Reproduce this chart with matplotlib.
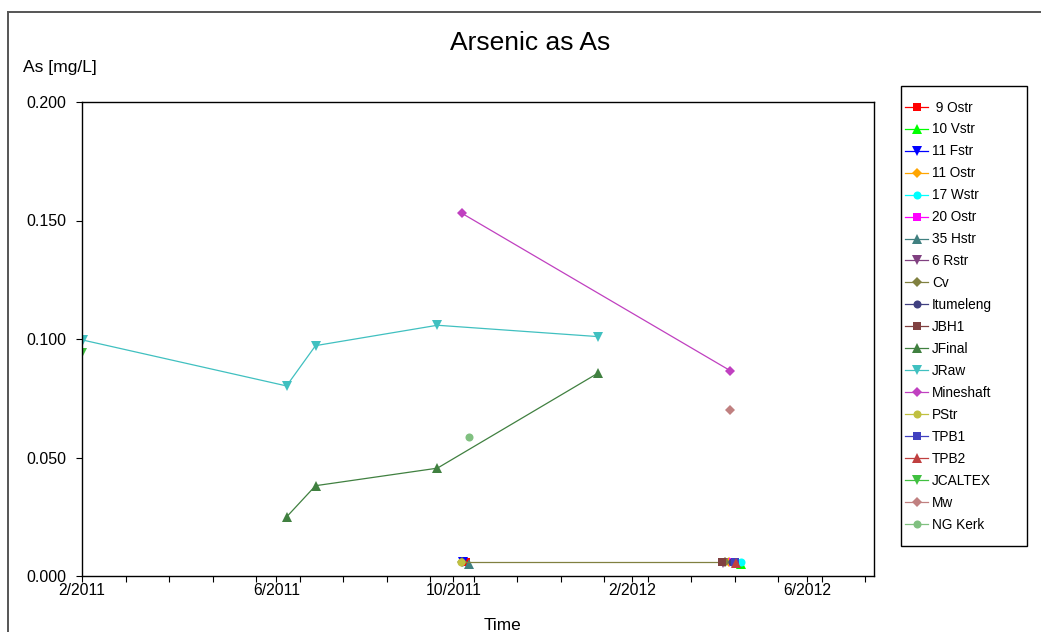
import matplotlib
matplotlib.use("Agg")
import matplotlib.pyplot as plt
import matplotlib.dates as mdates
from matplotlib.lines import Line2D
from matplotlib.patches import Rectangle
from datetime import datetime, timedelta

plt.rcParams['font.family'] = ['Liberation Sans', 'DejaVu Sans']

W, H = 1041, 632

station_names = [" 9 Ostr", "10 Vstr", "11 Fstr", "11 Ostr", "17 Wstr", "20 Ostr", "35 Hstr",
                 "6 Rstr", "Cv", "Itumeleng", "JBH1", "JFinal", "JRaw", "Mineshaft", "PStr",
                 "TPB1", "TPB2", "JCALTEX", "Mw", "NG Kerk"]
station_colors = ["#ff0000", "#00ff00", "#0000ff", "#ffa500", "#00ffff", "#ff00ff", "#408080",
                  "#804080", "#808040", "#404080", "#804040", "#408040", "#40c0c0", "#c040c0",
                  "#c0c040", "#4040c0", "#c04040", "#40c040", "#c08080", "#80c080"]
station_markers = ["s", "^", "v", "D", "o", "s", "^", "v", "D", "o",
                   "s", "^", "v", "D", "o", "s", "^", "v", "D", "o"]

# sample dates and arsenic values (mg/L) per station
ostr9_dates = ["2011-10-10"]
ostr9_as = [0.006]
vstr10_dates = ["2012-04-16"]
vstr10_as = [0.0052]
fstr11_dates = ["2011-10-08"]
fstr11_as = [0.006]
ostr11_dates = ["2012-04-08"]
ostr11_as = [0.006]
wstr17_dates = ["2012-04-16"]
wstr17_as = [0.006]
ostr20_dates = ["2012-04-11"]
ostr20_as = [0.006]
hstr35_dates = ["2011-10-12"]
hstr35_as = [0.0052]
rstr6_dates = ["2012-04-04"]
rstr6_as = [0.0055]
cv_dates = ["2011-10-07", "2012-04-05"]
cv_as = [0.006, 0.006]
itumeleng_dates = ["2012-04-10"]
itumeleng_as = [0.006]
jbh1_dates = ["2012-04-03"]
jbh1_as = [0.006]
jfinal_dates = ["2011-06-08", "2011-06-28", "2011-09-20", "2012-01-09"]
jfinal_as = [0.0249, 0.0381, 0.0455, 0.0857]
jraw_dates = ["2011-01-19", "2011-06-08", "2011-06-28", "2011-09-20", "2012-01-09"]
jraw_as = [0.0995, 0.0802, 0.0972, 0.1058, 0.1010]
mineshaft_dates = ["2011-10-07", "2012-04-09"]
mineshaft_as = [0.1530, 0.0866]
pstr_dates = ["2011-10-06"]
pstr_as = [0.006]
tpb1_dates = ["2012-04-12"]
tpb1_as = [0.006]
tpb2_dates = ["2012-04-13"]
tpb2_as = [0.0055]
jcaltex_dates = ["2011-01-18"]
jcaltex_as = [0.0941]
mw_dates = ["2012-04-09"]
mw_as = [0.0700]
ngkerk_dates = ["2011-10-12"]
ngkerk_as = [0.0587]

all_dates = [ostr9_dates, vstr10_dates, fstr11_dates, ostr11_dates, wstr17_dates, ostr20_dates,
             hstr35_dates, rstr6_dates, cv_dates, itumeleng_dates, jbh1_dates, jfinal_dates,
             jraw_dates, mineshaft_dates, pstr_dates, tpb1_dates, tpb2_dates, jcaltex_dates,
             mw_dates, ngkerk_dates]
all_values = [ostr9_as, vstr10_as, fstr11_as, ostr11_as, wstr17_as, ostr20_as, hstr35_as,
              rstr6_as, cv_as, itumeleng_as, jbh1_as, jfinal_as, jraw_as, mineshaft_as,
              pstr_as, tpb1_as, tpb2_as, jcaltex_as, mw_as, ngkerk_as]

x_major_dates = ["2011-01-18", "2011-06-01", "2011-10-01", "2012-02-01", "2012-06-01"]
x_major_labels = ["2/2011", "6/2011", "10/2011", "2/2012", "6/2012"]
y_ticks = [0.0, 0.05, 0.10, 0.15, 0.20]
y_tick_labels = ["0.000", "0.050", "0.100", "0.150", "0.200"]

x_start = datetime(2011, 1, 18)
x_end = datetime(2012, 7, 17)


def to_dt(s):
    return datetime.strptime(s, "%Y-%m-%d")


def fx(px):
    return px / W


def fy(py):
    return 1 - py / H


def marker_size(marker):
    if marker == "D":
        return 5.0
    if marker in ("^", "v"):
        return 6.5
    return 5.8


fig = plt.figure(figsize=(W / 100, H / 100), dpi=100)
ax = fig.add_axes([fx(82), fy(576), fx(874) - fx(82), fy(102) - fy(576)])

handles = []
for name, color, marker, dates, vals in zip(station_names, station_colors, station_markers,
                                            all_dates, all_values):
    line, = ax.plot([to_dt(d) for d in dates], vals, color=color, marker=marker,
                    markersize=marker_size(marker), linewidth=0.9, markeredgewidth=0,
                    label=name)
    handles.append(line)

ax.set_xlim(x_start, x_end)
ax.set_ylim(0, 0.2)

ax.set_xticks([mdates.date2num(to_dt(d)) for d in x_major_dates])
ax.set_xticklabels(x_major_labels)
minor = []
d = x_start
while d <= x_end:
    minor.append(mdates.date2num(d))
    d += timedelta(days=30)
ax.set_xticks(minor, minor=True)

ax.set_yticks(y_ticks)
ax.set_yticklabels(y_tick_labels)

ax.tick_params(axis="x", which="both", direction="out", length=4, width=0.8, pad=0.8,
               labelsize=11.3)
ax.tick_params(axis="y", which="both", direction="out", length=4.3, width=0.8, pad=7.2,
               labelsize=11.5)
for sp in ax.spines.values():
    sp.set_linewidth(1.0)
    sp.set_color("black")

fig.text(fx(530), fy(50), "Arsenic as As", fontsize=19, ha="center", va="baseline")
fig.text(fx(23), fy(72), "As [mg/L]", fontsize=12.6, ha="left", va="baseline")
fig.text(fx(502), fy(630), "Time", fontsize=12.4, ha="center", va="baseline")

# outer frame (only left and top edges visible)
fig.add_artist(Line2D([fx(8), fx(8)], [fy(12), 0], color="#555555", linewidth=1.4))
fig.add_artist(Line2D([fx(8), 1], [fy(12), fy(12)], color="#555555", linewidth=1.4))

# legend box
fig.add_artist(Rectangle((fx(901), fy(546)), fx(1027) - fx(901), fy(86) - fy(546),
                         transform=fig.transFigure, fill=False, edgecolor="black",
                         linewidth=1.0))
fig.legend(handles=handles, loc="upper left", bbox_to_anchor=(fx(905), fy(100.5)),
           frameon=False, borderpad=0, borderaxespad=0, fontsize=9.8, labelspacing=0.585,
           handlelength=1.7, handletextpad=0.3, markerscale=1.0)

fig.savefig("out.png", dpi=100)
